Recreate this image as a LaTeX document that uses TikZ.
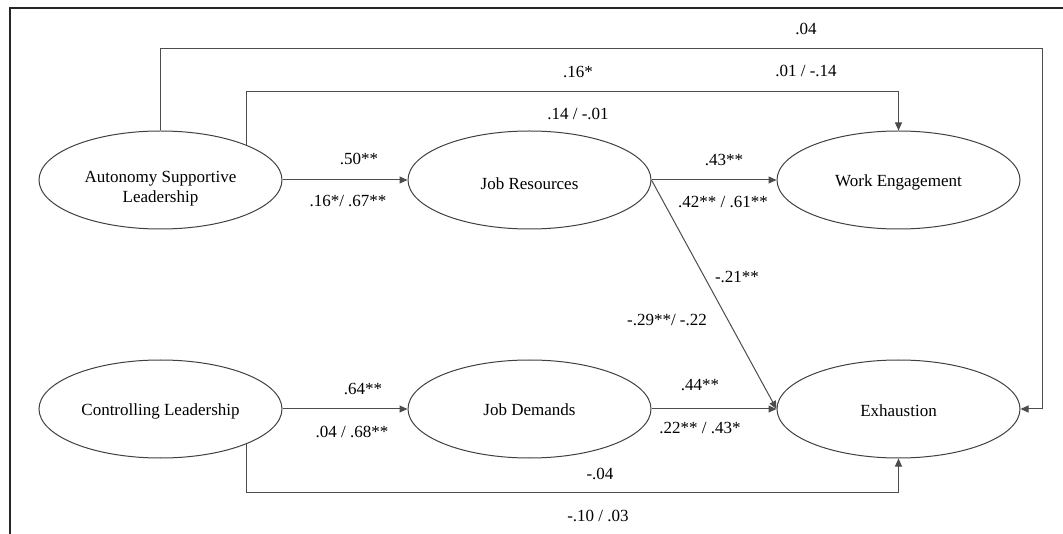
\documentclass[tikz,border=0pt]{standalone}
\usepackage{fontspec}
\setmainfont{Liberation Serif}
\usetikzlibrary{shapes.geometric,arrows.meta}
\newcommand\lowtxt[2]{\raisebox{-#1}[0pt][0pt]{#2}}
\begin{document}
\begin{tikzpicture}[x=1pt,y=-1pt,
  font=\fontsize{17}{20}\selectfont,
  latent/.style={ellipse,draw=black!75,line width=1pt,minimum width=243pt,minimum height=98pt,inner sep=0pt},
  conn/.style={draw=black!70,line width=1pt},
  arr/.style={conn,-{Triangle[length=8pt,width=7pt]}},
  lbl/.style={anchor=base,inner sep=0pt}
]
\useasboundingbox (0,0) rectangle (1063,534);
\draw[black!85,line width=1.2pt] (1063,8) -- (10,8) -- (10,534);

\node[latent] (asl) at (160.5,180) {\lowtxt{13pt}{\begin{tabular}{@{}c@{}}Autonomy Supportive\\Leadership\end{tabular}}};
\node[latent] (cl)  at (160.5,409) {\lowtxt{7pt}{Controlling Leadership}};
\node[latent] (jr)  at (529.5,180) {\lowtxt{10pt}{Job Resources}};
\node[latent] (jd)  at (529.5,409) {\lowtxt{7pt}{Job Demands}};
\node[latent] (we)  at (898.5,180) {\lowtxt{7pt}{Work Engagement}};
\node[latent] (exh) at (898.5,409) {\lowtxt{8pt}{Exhaustion}};

\coordinate (c1) at (1042,49);
\coordinate (c2) at (898.5,92);
\coordinate (c3) at (898.5,492);

\draw[arr] (asl.north) |- (c1) |- (exh.east);
\draw[arr] (asl.north east) |- (c2) -- (we.north);
\draw[arr] (cl.south east) |- (c3) -- (exh.south);
\draw[arr] (asl.east) -- (jr.west);
\draw[arr] (jr.east) -- (we.west);
\draw[arr] (jr.east) -- (exh.west);
\draw[arr] (cl.east) -- (jd.west);
\draw[arr] (jd.east) -- (exh.west);

\node[lbl] (l1)  at (806,35)  {.04};
\node[lbl] (l2)  at (578,78)  {.16*};
\node[lbl] (l3)  at (806,77)  {.01 / -.14};
\node[lbl] (l4)  at (578,120) {.14 / -.01};
\node[lbl] (l5)  at (359,165) {.50**};
\node[lbl] (l6)  at (348,207) {.16*/ .67**};
\node[lbl] (l7)  at (724,166) {.43**};
\node[lbl] (l8)  at (723,208) {.42** / .61**};
\node[lbl] (l9)  at (737,283) {-.21**};
\node[lbl] (l10) at (667,326) {-.29**/ -.22};
\node[lbl] (l11) at (363,395) {.64**};
\node[lbl] (l12) at (352,437) {.04 / .68**};
\node[lbl] (l13) at (700,391) {.44**};
\node[lbl] (l14) at (700,434) {.22** / .43*};
\node[lbl] (l15) at (600,479) {-.04};
\node[lbl] (l16) at (598,521) {-.10 / .03};
\end{tikzpicture}
\end{document}
